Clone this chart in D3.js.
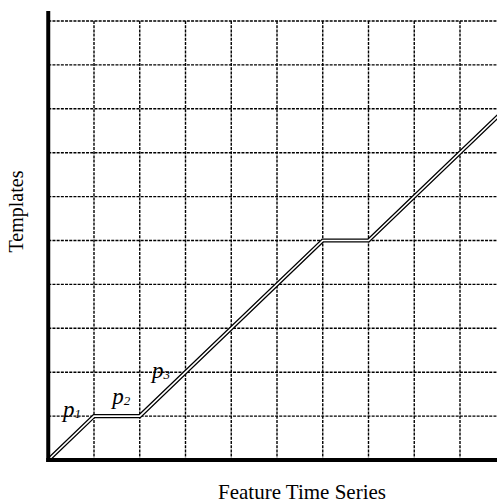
<!DOCTYPE html>
<html>
<head>
<meta charset="utf-8">
<script src="https://cdn.jsdelivr.net/npm/d3@7"></script>
<style>
  body { margin: 0; background: #fff; }
  svg { display: block; }
</style>
</head>
<body>
<div id="chart"></div>
<script>
// warping path (feature index -> template index)
var pathX = [0, 1, 2, 6, 7, 10];
var pathY = [0, 1, 1, 5, 5, 8];

// grid ticks
var xTicks = [1, 2, 3, 4, 5, 6, 7, 8, 9];
var yTicks = [1, 2, 3, 4, 5, 6, 7, 8, 9, 10];

// point labels
var labelNames = ["p", "p", "p"];
var labelSubs = ["1", "2", "3"];
var labelX = [0.32, 1.40, 2.27];
var labelY = [0.99, 1.28, 1.87];

var W = 497, H = 503;

var svg = d3.select("#chart")
  .append("svg")
    .attr("width", W)
    .attr("height", H);

var x = d3.scaleLinear()
  .domain([0, 10])
  .range([48.25, 505.75]);
var y = d3.scaleLinear()
  .domain([0, 10])
  .range([460, 21]);

// dashed grid
svg.append("g")
  .selectAll("line")
  .data(xTicks)
  .enter()
  .append("line")
    .attr("x1", function(d) { return x(d); })
    .attr("x2", function(d) { return x(d); })
    .attr("y1", y(10))
    .attr("y2", y(0))
    .style("stroke", "#000")
    .style("stroke-width", 1.4)
    .style("stroke-dasharray", "3,1.2");

svg.append("g")
  .selectAll("line")
  .data(yTicks)
  .enter()
  .append("line")
    .attr("x1", x(0))
    .attr("x2", W)
    .attr("y1", function(d) { return y(d); })
    .attr("y2", function(d) { return y(d); })
    .style("stroke", "#000")
    .style("stroke-width", 1.4)
    .style("stroke-dasharray", "3,1.2");

// double line path
var pts = pathX.map(function(d, i) { return [d, pathY[i]]; });
var line = d3.line()
  .x(function(d) { return x(d[0]); })
  .y(function(d) { return y(d[1]); });

svg.append("path")
  .datum(pts)
  .attr("d", line)
  .style("fill", "none")
  .style("stroke", "#000")
  .style("stroke-width", 4.2);
svg.append("path")
  .datum(pts)
  .attr("d", line)
  .style("fill", "none")
  .style("stroke", "#fff")
  .style("stroke-width", 1.6);

// axes as thick lines
svg.append("line")
  .attr("x1", x(0)).attr("x2", x(0))
  .attr("y1", 11).attr("y2", y(0) + 2)
  .style("stroke", "#000")
  .style("stroke-width", 4);
svg.append("line")
  .attr("x1", x(0) - 2).attr("x2", W)
  .attr("y1", y(0)).attr("y2", y(0))
  .style("stroke", "#000")
  .style("stroke-width", 4);

// p labels
var lab = svg.append("g")
  .selectAll("text")
  .data(labelNames)
  .enter()
  .append("text")
    .attr("x", function(d, i) { return x(labelX[i]); })
    .attr("y", function(d, i) { return y(labelY[i]); })
    .style("font-family", "'Liberation Serif', 'Times New Roman', serif")
    .style("font-style", "italic")
    .style("font-size", "23px")
    .style("fill", "#000");
lab.append("tspan").text(function(d) { return d; });
lab.append("tspan")
  .attr("dy", 1.5)
  .style("font-size", "13px")
  .text(function(d, i) { return labelSubs[i]; });

// axis titles
svg.append("text")
  .attr("text-anchor", "middle")
  .attr("x", 302)
  .attr("y", 499)
  .style("font-family", "'Liberation Serif', 'Times New Roman', serif")
  .style("font-size", "21px")
  .style("fill", "#000")
  .text("Feature Time Series");

svg.append("text")
  .attr("text-anchor", "middle")
  .attr("transform", "translate(23,211.5) rotate(-90)")
  .style("font-family", "'Liberation Serif', 'Times New Roman', serif")
  .style("font-size", "20px")
  .style("fill", "#000")
  .text("Templates");
</script>
</body>
</html>
